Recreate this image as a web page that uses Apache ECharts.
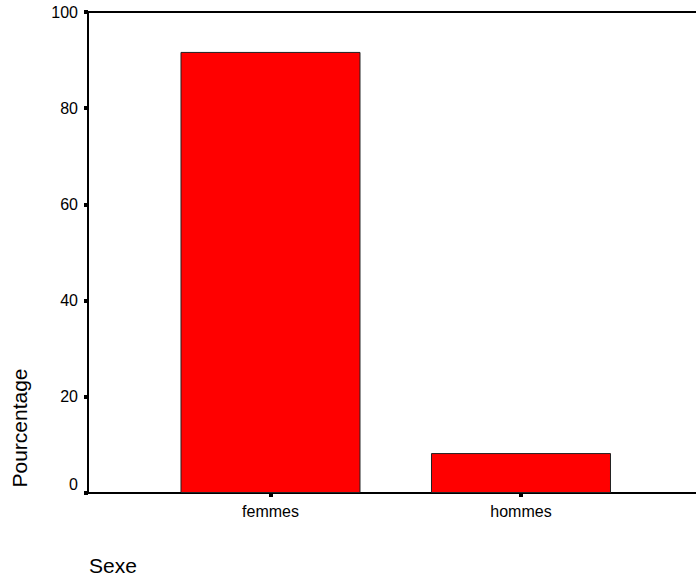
<!DOCTYPE html>
<html>
<head>
<meta charset="utf-8">
<script src="https://cdn.jsdelivr.net/npm/echarts@6/dist/echarts.min.js"></script>
<style>
html,body{margin:0;padding:0;background:#fff;}
#chart{width:696px;height:579px;}
</style>
</head>
<body>
<div id="chart"></div>
<script>
var categories = ['femmes', 'hommes'];
var values = [91.7, 8.3];
var yAxisTitle = 'Pourcentage';
var xAxisTitle = 'Sexe';

var FONT = '"Liberation Sans", Arial, sans-serif';
var chart = echarts.init(document.getElementById('chart'), null, {renderer: 'svg'});
var barData = values.map(function (v, i) { return [i, v]; });
var X_MIN = -0.7285, X_MAX = 1.6986;

chart.setOption({
  animation: false,
  backgroundColor: '#fff',
  grid: {left: 88, top: 12, right: 0, bottom: 86, show: false},
  xAxis: [{
    type: 'value',
    min: X_MIN, max: X_MAX,
    axisLine: {show: true, onZero: false, lineStyle: {color: '#000', width: 2}},
    axisTick: {show: true, customValues: [0, 1], length: 4, lineStyle: {color: '#000', width: 4}},
    axisLabel: {
      show: true, customValues: [0, 1], margin: 10,
      formatter: function (v) { return categories[Math.round(v)]; },
      color: '#000', fontSize: 16, fontFamily: FONT
    },
    splitLine: {show: false}
  }, {
    type: 'value', position: 'top',
    min: X_MIN, max: X_MAX,
    axisLine: {show: true, onZero: false, lineStyle: {color: '#000', width: 2}},
    axisTick: {show: false}, axisLabel: {show: false}, splitLine: {show: false}
  }],
  yAxis: {
    type: 'value',
    min: 0, max: 100, interval: 20,
    axisLine: {show: true, onZero: false, lineStyle: {color: '#000', width: 2}},
    axisTick: {show: true, length: 4, lineStyle: {color: '#000', width: 4}},
    axisLabel: {
      margin: 10, color: '#000', fontSize: 16, fontFamily: FONT,
      formatter: function (v) { return v === 0 ? '{z|0}' : String(v); },
      rich: {z: {fontSize: 16, fontFamily: FONT, color: '#000', padding: [0, 0, 18, 0]}}
    },
    splitLine: {show: false}
  },
  series: [{
    type: 'bar',
    xAxisIndex: 0,
    data: barData,
    barWidth: 180,
    itemStyle: {color: '#ff0000', borderColor: '#222', borderWidth: 1}
  }],
  graphic: [
    {
      type: 'text', x: 19.5, y: 428, rotation: Math.PI / 2,
      style: {text: yAxisTitle, fill: '#000', font: '21px ' + FONT, textAlign: 'center', textVerticalAlign: 'middle'}
    },
    {
      type: 'text', x: 89, y: 565,
      style: {text: xAxisTitle, fill: '#000', font: '21px ' + FONT, textAlign: 'left', textVerticalAlign: 'middle'}
    }
  ]
});
</script>
</body>
</html>
